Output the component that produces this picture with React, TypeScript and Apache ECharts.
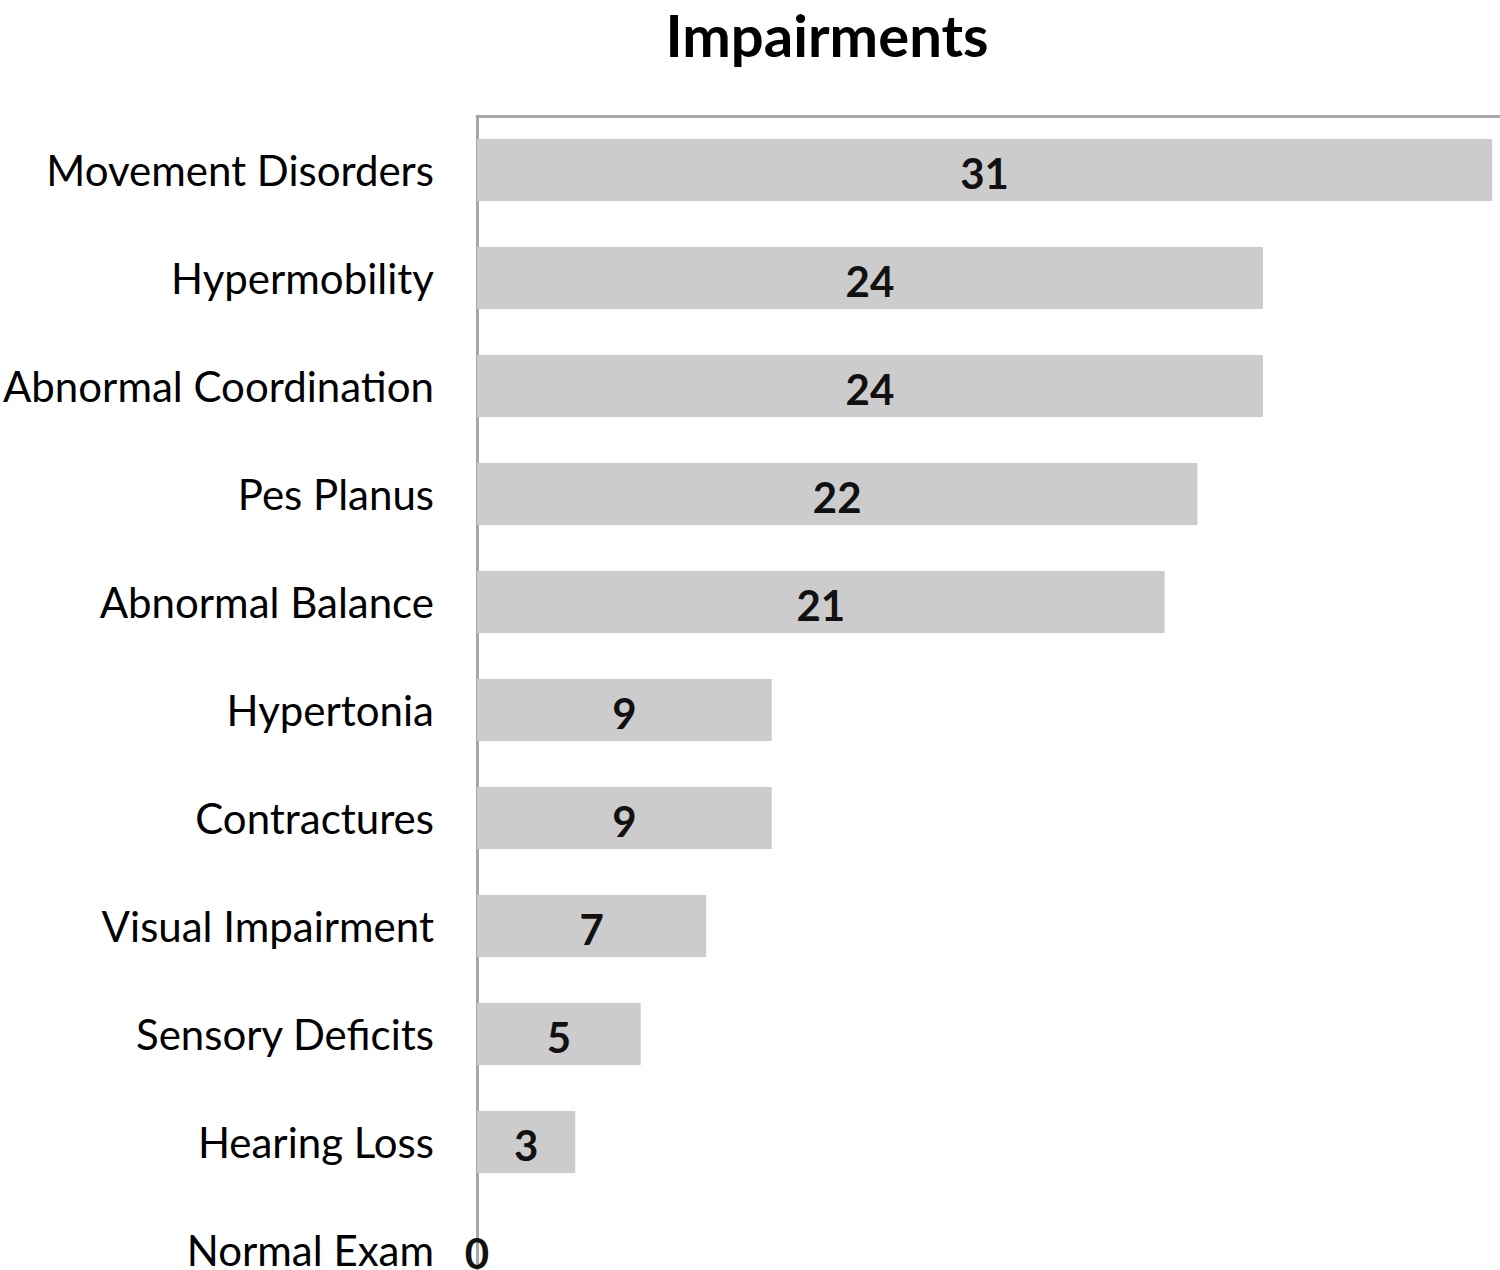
import React, { useEffect, useRef } from "react";
import * as echarts from "echarts";

const categories = [
  "Movement Disorders",
  "Hypermobility",
  "Abnormal Coordination",
  "Pes Planus",
  "Abnormal Balance",
  "Hypertonia",
  "Contractures",
  "Visual Impairment",
  "Sensory Deficits",
  "Hearing Loss",
  "Normal Exam",
];
const values = [31, 24, 24, 22, 21, 9, 9, 7, 5, 3, 0];
const titleText = "Impairments";

export default function App() {
  const ref = useRef<HTMLDivElement>(null);
  useEffect(() => {
    document.body.style.margin = "0";
    document.body.style.overflow = "hidden";
    const chart = echarts.init(ref.current!, null, { renderer: "svg" });
    chart.setOption({
      animation: false,
      backgroundColor: "#ffffff",
      title: {
        text: titleText,
        left: 822,
        top: 0,
        textAlign: "center",
        textStyle: { fontFamily: "Lato", fontSize: 58, fontWeight: "bold", color: "#000" },
      },
      grid: { left: 475, right: 0, top: 116, bottom: 0, containLabel: false },
      xAxis: {
        type: "value",
        position: "top",
        min: 0,
        max: 31.24,
        axisLine: { show: true, lineStyle: { color: "#a8a8a8", width: 3 } },
        axisTick: { show: false },
        axisLabel: { show: false },
        splitLine: { show: false },
      },
      yAxis: {
        type: "category",
        inverse: true,
        data: categories,
        axisLine: { show: true, lineStyle: { color: "#a8a8a8", width: 3 } },
        axisTick: { show: false },
        axisLabel: {
          margin: 43,
          fontFamily: "Lato",
          fontSize: 42,
          lineHeight: 36,
          color: "#000",
        },
      },
      series: [
        {
          type: "bar",
          data: values,
          barWidth: 62,
          itemStyle: { color: "#cccccc" },
          label: {
            show: true,
            position: "inside",
            fontFamily: "Lato",
            fontSize: 42,
            lineHeight: 36,
            fontWeight: "bold",
            color: "#111",
            offset: [0, 3],
          },
        },
      ],
    });
    return () => chart.dispose();
  }, []);
  return <div ref={ref} style={{ width: 1500, height: 1304 }} />;
}
